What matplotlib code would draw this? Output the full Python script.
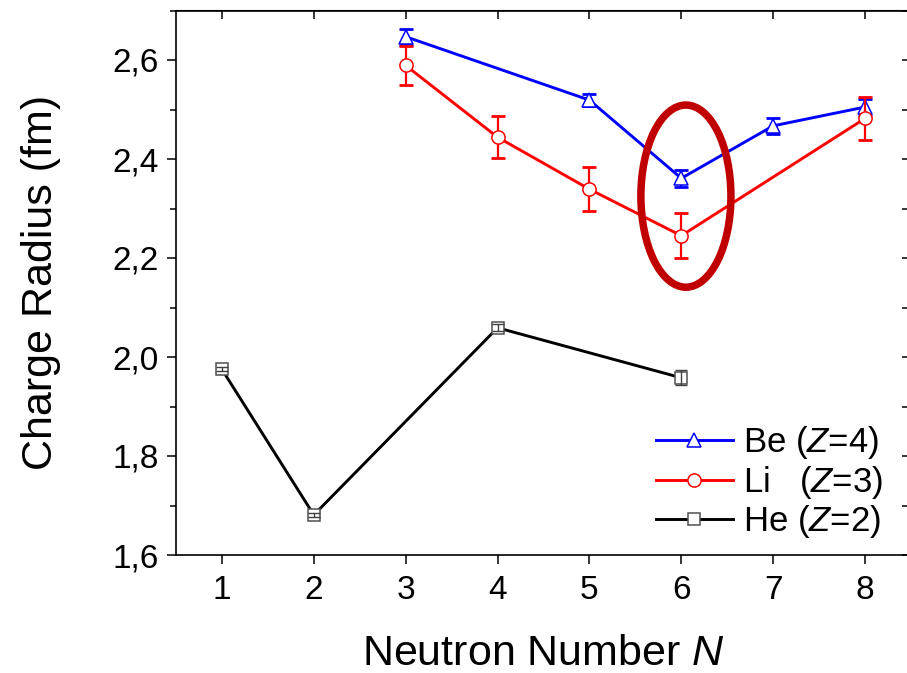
import numpy as np
import matplotlib
matplotlib.use("Agg")
import matplotlib.pyplot as plt
from matplotlib.patches import Ellipse
from matplotlib.ticker import MultipleLocator

plt.rcParams['font.family'] = ['Liberation Sans', 'DejaVu Sans']
plt.rcParams['mathtext.fontset'] = 'custom'
plt.rcParams['mathtext.rm'] = 'Liberation Sans'
plt.rcParams['mathtext.it'] = 'Liberation Sans:italic'

# charge radii (fm) vs neutron number
N_be = [3, 5, 6, 7, 8]
r_be = [2.647, 2.519, 2.361, 2.467, 2.505]
err_be = [0.016, 0.012, 0.017, 0.016, 0.016]

N_li = [3, 4, 5, 6, 8]
r_li = [2.589, 2.444, 2.339, 2.245, 2.482]
err_li = [0.039, 0.042, 0.044, 0.046, 0.043]

N_he = [1, 2, 4, 6]
r_he = [1.975, 1.681, 2.059, 1.958]
err_he = [0.004, 0.004, 0.007, 0.015]

xticks = [1, 2, 3, 4, 5, 6, 7, 8]
yticks = [1.6, 1.8, 2.0, 2.2, 2.4, 2.6]
ytick_labels = ['1,6', '1,8', '2,0', '2,2', '2,4', '2,6']

# N=6 highlight
ring_center = (6.05, 2.325)
ring_w, ring_h = 0.98, 0.368

fig = plt.figure(figsize=(9.07, 6.73), dpi=100)
ax = fig.add_axes([176/907, 118/673, 735/907, 544.5/673])

# Be
ax.errorbar(N_be, r_be, yerr=err_be, fmt='none', ecolor='blue', elinewidth=1.6,
            capsize=5, capthick=2.0, zorder=3)
ax.plot(N_be, r_be, '-^', color='blue', lw=2.1, ms=10, mfc='white', mec='blue',
        mew=1.1, label='Be ($Z$=4)', zorder=3)

# Li
ax.errorbar(N_li, r_li, yerr=err_li, fmt='none', ecolor='red', elinewidth=1.6,
            capsize=5, capthick=2.0, zorder=3)
ax.plot(N_li, r_li, '-o', color='red', lw=2.1, ms=9.5, mfc='white', mec='red',
        mew=1.1, label='Li   ($Z$=3)', zorder=4)

# He
ax.plot(N_he, r_he, '-s', color='black', lw=2.1, ms=8, mfc='white', mec='#505050',
        mew=1.1, label='He ($Z$=2)', zorder=3)
ax.errorbar(N_he, r_he, yerr=err_he, fmt='none', ecolor='#404040', elinewidth=1.0,
            capsize=4, capthick=1.0, zorder=4)

ax.add_patch(Ellipse(ring_center, ring_w, ring_h, fill=False, ec='#C00000', lw=5.4, zorder=5))

ax.set_xlim(0.5, 8.5)
ax.set_ylim(1.6, 2.7)
ax.set_xticks(xticks)
ax.set_yticks(yticks, ytick_labels)
ax.yaxis.set_minor_locator(MultipleLocator(0.1))
ax.tick_params(axis='both', which='major', direction='out', length=6.5, width=1.1,
               labelsize=24, pad=6)
ax.tick_params(axis='x', which='major', pad=8)
ax.tick_params(axis='y', which='minor', direction='out', length=4.3, width=1.1)
for s in ax.spines.values():
    s.set_linewidth(1.2)

# inward ticks on top and right
top = ax.secondary_xaxis('top')
top.set_xticks(xticks)
top.tick_params(direction='in', length=6.5, width=1.1, labeltop=False)
right = ax.secondary_yaxis('right')
right.set_yticks(yticks)
right.yaxis.set_minor_locator(MultipleLocator(0.1))
right.tick_params(which='both', direction='in', length=6.5, width=1.1, labelright=False)

ax.set_xlabel('Neutron Number $N$', fontsize=31, labelpad=20)
ax.set_ylabel('Charge Radius (fm)', fontsize=31, labelpad=37)

ax.legend(loc='lower right', bbox_to_anchor=(0.995, -0.018), frameon=False, fontsize=25,
          handlelength=2.2, handletextpad=0.3, labelspacing=0.08, borderpad=0.2,
          numpoints=1)

fig.savefig('out.png', dpi=100)
